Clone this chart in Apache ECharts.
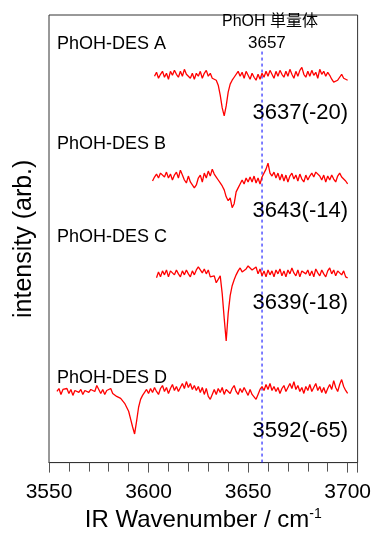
<!DOCTYPE html>
<html><head><meta charset="utf-8">
<script src="https://cdn.jsdelivr.net/npm/echarts@6/dist/echarts.min.js"></script>
<style>html,body{margin:0;padding:0;background:#fff}#c{width:374px;height:537px}</style>
</head><body><div id="c"></div>
<script>
// Wavenumber start (cm-1) for each trace, step 1 cm-1
const startA = 3603, startB = 3602, startC = 3604, startD = 3554;
// Vertical offsets (arb.)
const offsets = [391, 287, 191, 72];
const seriesNames = ['PhOH-DES A', 'PhOH-DES B', 'PhOH-DES C', 'PhOH-DES D'];
const peakLabels = ['3637(-20)', '3643(-14)', '3639(-18)', '3592(-65)'];
const monomerPeak = 3657;
const monomerLineY = [416, 0];
const xTicks = [3550, 3600, 3650, 3700];

const traceA = [0,4,-2,2,5,-1,3,-3,5,1,6,2,-1,5,0,7,2,4,-2,3,-3,3,0,5,-2,3,6,0,3,-2,-2,-4,-9,-19,-32,-40,-30,-16,-8,-4,-1,1,5,0,4,-2,5,1,-3,3,-1,-4,2,-3,3,-1,5,0,6,2,-2,5,0,6,2,-1,5,0,7,2,-2,5,0,6,9,2,-1,5,0,6,1,4,-2,7,2,5,0,4,1,-3,-6,-8,-4,-1,2,-2,-3,-4];
const traceB = [-2,2,5,1,6,8,2,7,1,5,-1,4,7,1,9,4,-1,-4,3,-3,-5,-9,-6,1,4,-3,6,1,8,3,10,5,2,-1,-4,-7,-11,-18,-22,-19,-29,-25,-13,-9,-5,-1,-5,1,-3,2,-3,3,-4,1,-5,2,4,10,16,6,3,7,1,6,-1,5,-2,4,-3,3,6,0,4,-2,5,0,-3,4,-1,3,6,2,7,9,3,-1,4,-3,3,-1,4,0,-3,3,6,2,0,-2,-5];
const traceC = [-4,2,-3,3,-1,4,-3,3,5,-1,4,0,-3,3,-1,4,0,-3,3,-1,4,7,9,1,5,0,4,-3,-5,-2,-9,-7,-2,-20,-45,-68,-40,-22,-12,-6,-1,3,6,2,0,5,8,10,4,2,7,0,5,-2,3,-3,4,-1,3,-3,4,0,5,-2,3,-3,4,0,6,1,-2,4,-3,3,5,0,4,-2,3,-3,5,1,-2,4,0,-3,3,6,0,4,-2,3,5,-1,3,-3,-4];
const traceD = [0,3,-3,2,0,3,-2,2,-4,1,3,-1,2,-3,1,3,-1,2,4,0,6,2,-2,2,-3,1,-1,3,-2,-3,-5,-4,-7,-9,-12,-16,-20,-28,-36,-43,-30,-16,-8,-4,-1,2,-2,3,-1,4,0,-3,3,6,0,4,-2,3,7,1,5,0,4,8,3,10,4,8,2,6,1,5,-1,4,-3,3,-5,-8,-3,2,-3,3,-1,4,-3,2,4,-2,3,6,0,-3,3,-1,4,0,-4,2,-3,-5,-8,-3,2,5,1,7,2,8,1,5,0,4,-2,3,6,0,4,8,3,10,2,6,0,4,-2,5,1,7,0,4,8,1,5,-1,4,-2,3,7,2,11,4,0,7,12,5,1,-2];

const traces = [[startA, traceA], [startB, traceB], [startC, traceC], [startD, traceD]];
const FONT = '"Liberation Sans", Arial, "Noto Sans CJK JP", sans-serif';

const chart = echarts.init(document.getElementById('c'), null, {renderer: 'canvas'});
const series = traces.map((t, i) => ({
  type: 'line',
  name: seriesNames[i],
  data: t[1].map((v, k) => [t[0] + k, offsets[i] + v]),
  showSymbol: false,
  symbol: 'none',
  lineStyle: {color: '#ff0000', width: 1.3},
  animation: false,
  z: 3
}));
series.push({
  type: 'line', name: 'monomer', silent: true, symbol: 'none', showSymbol: false,
  data: monomerLineY.map(y => [monomerPeak, y]),
  lineStyle: {color: '#0000ff', type: [3, 3], width: 1},
  animation: false, z: 2
});

const graphics = [];
const labelY = [45, 145, 238, 379];
const annY = [115, 213, 305, 433];
seriesNames.forEach((n, i) => {
  graphics.push({type: 'text', left: 57, top: labelY[i] - 10,
    style: {text: n, font: '18px ' + FONT, fill: '#000'}});
  graphics.push({type: 'text', right: 26, top: annY[i] - 13,
    style: {text: peakLabels[i], font: '22px ' + FONT, fill: '#000'}});
});
graphics.push({type: 'text', left: 222, top: 14,
  style: {text: 'PhOH 単量体', font: '16px ' + FONT, fill: '#000'}});
graphics.push({type: 'text', left: 248, top: 35,
  style: {text: String(monomerPeak), font: '17px ' + FONT, fill: '#000'}});

chart.setOption({
  animation: false,
  backgroundColor: '#fff',
  grid: {left: 49, right: 13, top: 15, bottom: 69, show: true, borderColor: '#333', borderWidth: 1, backgroundColor: 'transparent'},
  xAxis: {
    type: 'value', min: 3550, max: 3705, interval: 50,
    axisLine: {show: true, onZero: false, lineStyle: {color: '#333', width: 1}},
    axisTick: {show: true, inside: false, length: 10, lineStyle: {color: '#555'}},
    minorTick: {show: true, splitNumber: 5, length: 9, lineStyle: {color: '#555'}},
    splitLine: {show: false},
    axisLabel: {fontSize: 21, color: '#000', fontFamily: FONT, margin: 19,
      formatter: v => xTicks.includes(v) ? String(v) : ''},
    name: '{a|IR Wavenumber / cm}{s|-1}',
    nameLocation: 'middle', nameGap: 43,
    nameTextStyle: {rich: {a: {fontSize: 24, color: '#000', fontFamily: FONT},
      s: {fontSize: 14, color: '#000', fontFamily: FONT, verticalAlign: 'top', padding: [0, 0, 11, 0]}}}
  },
  yAxis: {
    type: 'value', min: 0, max: 453,
    axisLine: {show: false}, axisTick: {show: false}, axisLabel: {show: false}, splitLine: {show: false},
    name: 'intensity (arb.)', nameLocation: 'middle', nameGap: 12,
    nameTextStyle: {fontSize: 25, color: '#000', fontFamily: FONT}
  },
  graphic: graphics,
  series: series
});
</script></body></html>
